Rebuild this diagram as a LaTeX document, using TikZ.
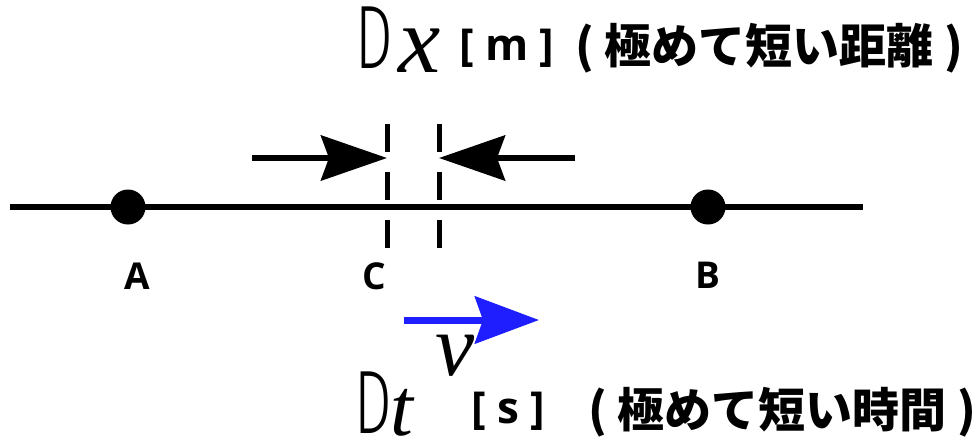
\documentclass[tikz,border=0pt]{standalone}
\usepackage{fontspec}
\usepackage{graphicx}
\usetikzlibrary{arrows.meta}
\newfontfamily\cjkfont{Noto Sans CJK JP}
\newfontfamily\labfont{Open Sans}
\newfontfamily\varfont{Liberation Serif}
\newfontfamily\thinfont{Fira Sans}[UprightFont=* Light]
\definecolor{vblue}{RGB}{30,30,255}
\begin{document}
\begin{tikzpicture}[x=1pt,y=-1pt,
  axisline/.style={line width=6.5pt},
  dotnode/.style={circle,fill=black,inner sep=0pt,minimum size=35pt},
  ptlabel/.style={inner sep=0pt,font=\labfont\bfseries\fontsize{37}{37}\selectfont},
  guide/.style={line width=5pt,dash pattern=on 28pt off 20pt},
  squeeze/.style={line width=6pt,-{Stealth[length=66pt,width=45pt,inset=8pt]}},
  velocity/.style={vblue,line width=7pt,-{Stealth[length=64pt,width=47pt,inset=8pt]}},
  deltaD/.style={inner sep=0pt,anchor=base west,font=\thinfont\fontsize{90}{90}\selectfont},
  symb/.style={inner sep=0pt,anchor=base west,font=\varfont\itshape\fontsize{#1}{#1}\selectfont},
  unit/.style={inner sep=0pt,anchor=base west,font=\labfont\bfseries\fontsize{44}{44}\selectfont},
  jp/.style={inner sep=0pt,anchor=base west,font=\cjkfont\bfseries\fontsize{47}{47}\selectfont},
]
\path[use as bounding box] (0,0) rectangle (974,442);

% main line and points
\coordinate (lineL) at (10,207);
\coordinate (lineR) at (863,207);
\draw[axisline] (lineL) -- (lineR);
\node[dotnode] (A) at (128,207) {};
\node[dotnode] (B) at (708,207) {};
\node[ptlabel] (labA) at (137.5,276) {A};
\node[ptlabel] (labC) at (374.5,276) {C};
\node[ptlabel] (labB) at (707.5,275) {B};

% dashed guides
\coordinate (g1t) at (387,124);
\coordinate (g1b) at (387,250);
\coordinate (g2t) at (439,124);
\coordinate (g2b) at (439,250);
\draw[guide] (g1t) -- (g1b);
\draw[guide] (g2t) -- (g2b);

% squeezing arrows
\coordinate (ls) at (252,158);
\coordinate (le) at (387,158);
\coordinate (rs) at (575,158);
\coordinate (re) at (439,158);
\draw[squeeze] (ls) -- (le);
\draw[squeeze] (rs) -- (re);

% velocity arrow
\coordinate (vs) at (404,320);
\coordinate (ve) at (539,320);
\draw[velocity] (vs) -- (ve);
\node[inner sep=0pt,anchor=base,font=\varfont\itshape\fontsize{88}{88}\selectfont] (v) at (455,375) {v};

% top text
\node[deltaD] (D1) at (355,68) {\scalebox{0.66}[1]{D}};
\node[symb=95] (x1) at (398,72) {x};
\node[unit] (u1) at (459,60) {[ m ]};
\node[jp] (j1) at (575,63) {( 極めて短い距離 )};

% bottom text
\node[deltaD] (D2) at (354,433) {\scalebox{0.66}[1]{D}};
\node[symb=82] (t2) at (390,435) {t};
\node[unit] (u2) at (471,423) {[ s ]};
\node[jp] (j2) at (588,427) {( 極めて短い時間 )};
\end{tikzpicture}
\end{document}
